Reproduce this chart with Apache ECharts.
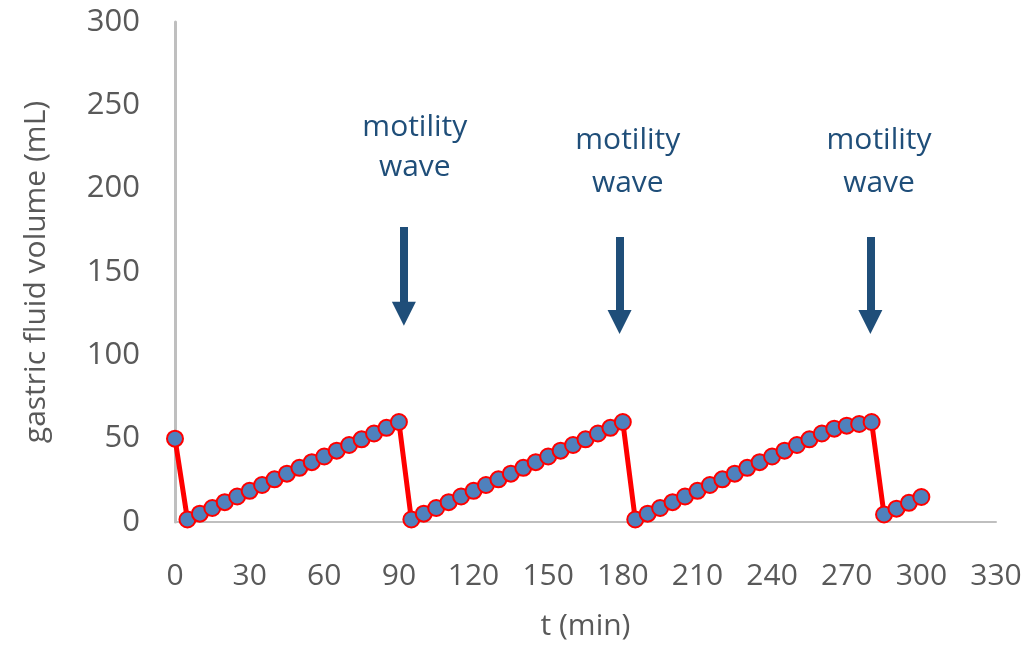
<!DOCTYPE html>
<html>
<head>
<meta charset="utf-8">
<script src="https://cdn.jsdelivr.net/npm/echarts@6/dist/echarts.min.js"></script>
<style>html,body{margin:0;padding:0;background:#fff}#c{width:1030px;height:646px}</style>
</head>
<body>
<div id="c"></div>
<script>
// time points (min)
const times = [0,5,10,15,20,25,30,35,40,45,50,55,60,65,70,75,80,85,90,
  95,100,105,110,115,120,125,130,135,140,145,150,155,160,165,170,175,180,
  185,190,195,200,205,210,215,220,225,230,235,240,245,250,255,260,265,270,275,280,
  285,290,295,300];
// gastric fluid volume (mL)
const volumes = [50,1.5,5,8.4,11.9,15.3,18.7,22.2,25.6,29,32.5,35.9,39.3,42.8,46.2,49.6,53.1,56.5,60,
  1.5,5,8.4,11.9,15.3,18.7,22.2,25.6,29,32.5,35.9,39.3,42.8,46.2,49.6,53.1,56.5,60,
  1.5,5,8.4,11.9,15.3,18.7,22.2,25.6,29,32.5,35.9,39.3,42.8,46.2,49.6,53.1,56,57.8,58.8,60,
  4.5,8,11.5,15];
// annotation: motility wave arrows [t, yTop, yBottom] and label positions [t, y]
const waveArrows = [[92,177,125],[178.7,171,120],[279.5,171,120]];
const waveLabels = [[96.4,225],[182,216],[283,216]];
const waveLineHeights = [40,43,43];
const waveText = 'motility\nwave';

const FONT = '"Open Sans", sans-serif';
const chart = echarts.init(document.getElementById('c'));
chart.setOption({
  animation: false,
  backgroundColor: '#fff',
  grid: {left: 175, right: 34, top: 22, bottom: 122},
  xAxis: {
    type: 'value', min: 0, max: 330, interval: 30,
    name: 't (min)', nameLocation: 'middle', nameGap: 89,
    nameTextStyle: {fontFamily: FONT, fontSize: 30, color: '#595959'},
    axisLine: {show: true, lineStyle: {color: '#bfbfbf', width: 2}},
    axisTick: {show: false},
    splitLine: {show: false},
    axisLabel: {fontFamily: FONT, fontSize: 30, color: '#595959', margin: 39}
  },
  yAxis: {
    type: 'value', min: 0, max: 300, interval: 50,
    name: 'gastric fluid volume (mL)', nameLocation: 'middle', nameGap: 124,
    nameTextStyle: {fontFamily: FONT, fontSize: 30, color: '#595959'},
    axisLine: {show: true, onZero: false, lineStyle: {color: '#bfbfbf', width: 3}},
    axisTick: {show: false},
    splitLine: {show: false},
    axisLabel: {fontFamily: FONT, fontSize: 31, color: '#595959', margin: 35}
  },
  series: [
    {
      type: 'line',
      data: times.map((t, i) => [t, volumes[i]]),
      lineStyle: {color: '#ff0000', width: 5},
      symbol: 'circle', symbolSize: 16,
      itemStyle: {color: '#4f81bd', borderColor: '#ff0000', borderWidth: 2},
      z: 3
    },
    {
      type: 'line', data: [], silent: true,
      markLine: {
        silent: true, animation: false,
        symbol: ['none', 'triangle'], symbolSize: [24, 24],
        label: {show: false},
        lineStyle: {color: '#1f4e79', width: 8, type: 'solid'},
        itemStyle: {color: '#1f4e79'},
        data: waveArrows.map(a => [{coord: [a[0], a[1]]}, {coord: [a[0], a[2]]}])
      },
      markPoint: {
        silent: true, animation: false,
        symbol: 'circle', symbolSize: 0,
        label: {show: true, formatter: waveText, fontFamily: FONT, fontSize: 30,
          color: '#1f4e79', lineHeight: 40, align: 'center', verticalAlign: 'middle', position: 'inside'},
        data: waveLabels.map((p, i) => ({coord: p, label: {lineHeight: waveLineHeights[i]}}))
      }
    }
  ]
});
</script>
</body>
</html>
